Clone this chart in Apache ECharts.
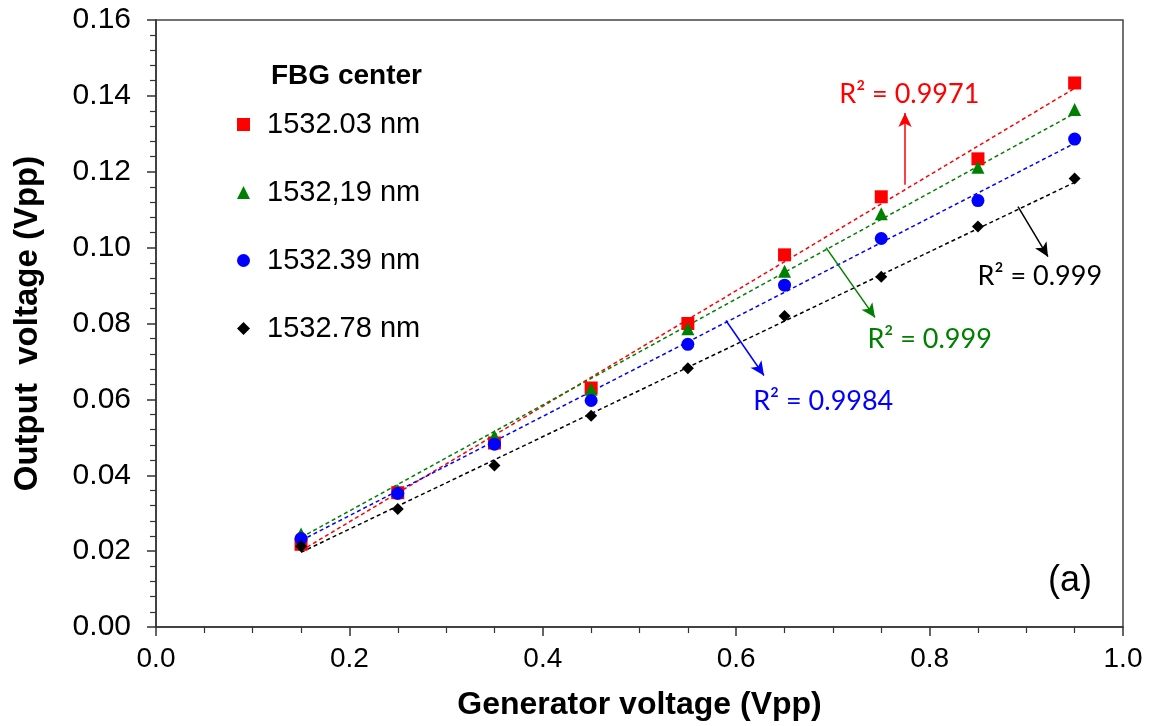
<!DOCTYPE html>
<html>
<head>
<meta charset="utf-8">
<script src="https://cdn.jsdelivr.net/npm/echarts@6/dist/echarts.min.js"></script>
<style>html,body{margin:0;padding:0;background:#fff;}#c{width:1155px;height:726px;}</style>
</head>
<body>
<div id="c"></div>
<script>
// ---- data ----
const xVals = [0.15, 0.25, 0.35, 0.45, 0.55, 0.65, 0.75, 0.85, 0.95];
const red   = [0.0218, 0.0354, 0.0485, 0.0630, 0.0800, 0.0981, 0.1134, 0.1234, 0.1434];
const green = [0.0245, 0.0360, 0.0503, 0.0627, 0.0786, 0.0938, 0.1089, 0.1212, 0.1364];
const blue  = [0.0233, 0.0352, 0.0482, 0.0597, 0.0745, 0.0901, 0.1024, 0.1124, 0.1286];
const black = [0.0213, 0.0311, 0.0426, 0.0557, 0.0682, 0.0820, 0.0923, 0.1056, 0.1182];
const seriesNames = ['1532.03 nm', '1532,19 nm', '1532.39 nm', '1532.78 nm'];
// trend-line end values at x = 0.15 and x = 0.95
const trendX = [0.15, 0.95];
const trendRed   = [0.0201, 0.1420];
const trendGreen = [0.0236, 0.1354];
const trendBlue  = [0.0228, 0.1275];
const trendBlack = [0.0197, 0.1172];
// R² annotations: text, text anchor, arrow from, arrow to (data coords)
const r2Text  = ['R² = 0.9971', 'R² = 0.999', 'R² = 0.9984', 'R² = 0.999'];
const r2Pos   = [[0.779, 0.1403], [0.800, 0.0758], [0.690, 0.0595], [0.914, 0.0924]];
const arrFrom = [[0.7746, 0.1166], [0.6929, 0.1000], [0.5894, 0.0808], [0.8914, 0.1108]];
const arrTo   = [[0.7746, 0.1355], [0.7435, 0.0816], [0.6287, 0.0663], [0.9224, 0.0976]];
const xTicksFmt = v => v.toFixed(1);
const yTicksFmt = v => v.toFixed(2);

const colors = ['#ff0000', '#008000', '#0000ff', '#000000'];
const symbols = ['rect', 'triangle', 'circle', 'diamond'];
const symSizes = [13, 13, 13, 12];
const values = [red, green, blue, black];
const trends = [trendRed, trendGreen, trendBlue, trendBlack];

const series = [];
trends.forEach((t, i) => {
  series.push({
    type: 'line', name: 'trend' + i, data: trendX.map((x, k) => [x, t[k]]),
    symbol: 'none', silent: true, z: 1,
    lineStyle: { color: colors[i], width: 1.5, type: [4, 3] },
    markLine: {
      silent: true, symbol: ['none', 'arrow'], symbolSize: [10, 14],
      lineStyle: { color: colors[i], width: 1.5, type: 'solid' },
      label: { show: false },
      data: [[{ coord: arrFrom[i] }, { coord: arrTo[i] }]]
    },
    markPoint: {
      silent: true, symbol: 'circle', symbolSize: 0,
      label: { show: true, position: 'inside', formatter: r2Text[i], color: colors[i],
        fontFamily: 'Lato', fontSize: 27 },
      data: [{ coord: r2Pos[i] }]
    }
  });
});
values.forEach((v, i) => {
  series.push({
    type: 'scatter', name: seriesNames[i], data: xVals.map((x, k) => [x, v[k]]),
    symbol: symbols[i], symbolSize: symSizes[i], z: 3 + i,
    itemStyle: { color: colors[i], opacity: 1 }
  });
});
series.push({
  type: 'scatter', name: 'label', data: [], silent: true,
  markPoint: { silent: true, symbol: 'circle', symbolSize: 0,
    label: { show: true, position: 'inside', formatter: '(a)', color: '#000',
      fontFamily: 'Liberation Sans', fontSize: 36 },
    data: [{ coord: [0.9452, 0.0121] }] }
});

const chart = echarts.init(document.getElementById('c'));
chart.setOption({
  animation: false,
  backgroundColor: '#fff',
  grid: { left: 156, right: 32, top: 20, bottom: 98, show: true, borderColor: '#444', borderWidth: 1.5 },
  title: { text: 'FBG center', left: 266, top: 57,
    textStyle: { fontFamily: 'Liberation Sans', fontWeight: 'bold', fontSize: 28, color: '#000' } },
  legend: {
    data: seriesNames, orient: 'vertical', left: 232, top: 105, itemGap: 39,
    itemWidth: 13, itemHeight: 13,
    textStyle: { fontFamily: 'Liberation Sans', fontSize: 29, color: '#000', padding: [0, 0, 0, 12], lineHeight: 29 }
  },
  xAxis: {
    type: 'value', min: 0, max: 1, interval: 0.2,
    name: 'Generator voltage (Vpp)', nameLocation: 'middle', nameGap: 62,
    nameTextStyle: { fontFamily: 'Liberation Sans', fontWeight: 'bold', fontSize: 32, color: '#000' },
    axisLine: { lineStyle: { color: '#333', width: 1.5 } },
    axisTick: { length: 9, lineStyle: { color: '#333', width: 1.5 } },
    minorTick: { show: true, splitNumber: 4, length: 6, lineStyle: { color: '#333', width: 1.2 } },
    axisLabel: { formatter: xTicksFmt, fontFamily: 'Liberation Sans', fontSize: 28, color: '#000', margin: 18 },
    splitLine: { show: false }
  },
  yAxis: {
    type: 'value', min: 0, max: 0.16, interval: 0.02,
    name: 'Output  voltage (Vpp)', nameLocation: 'middle', nameGap: 112, nameRotate: 90,
    nameTextStyle: { fontFamily: 'Liberation Sans', fontWeight: 'bold', fontSize: 33, color: '#000' },
    axisLine: { show: true, lineStyle: { color: '#333', width: 1.5 } },
    axisTick: { show: true, length: 9, lineStyle: { color: '#333', width: 1.5 } },
    minorTick: { show: true, splitNumber: 5, length: 6, lineStyle: { color: '#333', width: 1.2 } },
    axisLabel: { formatter: yTicksFmt, fontFamily: 'Liberation Sans', fontSize: 30, color: '#000', margin: 25 },
    splitLine: { show: false }
  },
  series: series
});
</script>
</body>
</html>
